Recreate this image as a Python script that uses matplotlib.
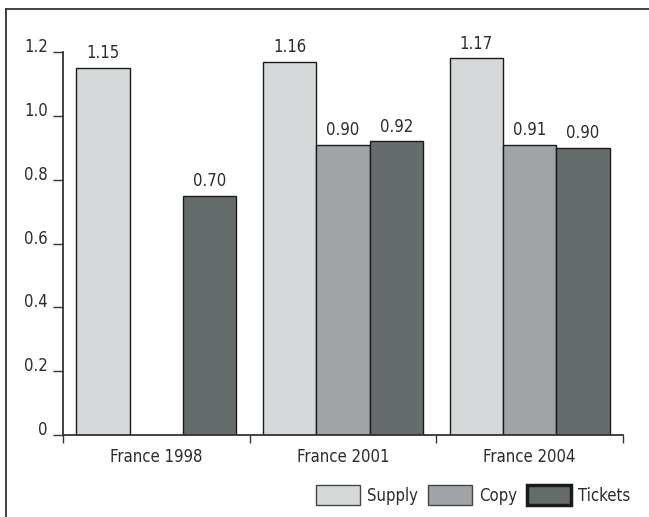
import numpy as np
import matplotlib
matplotlib.use("Agg")
import matplotlib.pyplot as plt
from matplotlib import font_manager
from matplotlib.lines import Line2D
from matplotlib.patches import Patch

# pick the narrowest sans face that is installed
installed = {(f.name, f.stretch) for f in font_manager.fontManager.ttflist}
names = {n for n, _ in installed}
if "Liberation Sans Narrow" in names:
    plt.rcParams["font.family"] = ["Liberation Sans Narrow", "DejaVu Sans"]
    FS = 13.5
elif ("DejaVu Sans", "condensed") in installed or "DejaVu Sans Condensed" in names:
    plt.rcParams["font.family"] = ["DejaVu Sans Condensed" if "DejaVu Sans Condensed" in names else "DejaVu Sans"]
    plt.rcParams["font.stretch"] = "condensed"
    FS = 12
else:
    plt.rcParams["font.family"] = ["Liberation Sans", "DejaVu Sans"]
    FS = 11.5
plt.rcParams["font.size"] = FS
PX = FS * 100 / 72  # font size in pixels

groups = ["France 1998", "France 2001", "France 2004"]
series = ["Supply", "Copy", "Tickets"]
supply = [1.15, 1.17, 1.18]
copy = [np.nan, 0.91, 0.91]
tickets = [0.75, 0.92, 0.90]
supply_labels = ["1.15", "1.16", "1.17"]
copy_labels = ["", "0.90", "0.91"]
tickets_labels = ["0.70", "0.92", "0.90"]
y_ticks = [0, 0.2, 0.4, 0.6, 0.8, 1.0, 1.2]
y_tick_labels = ["0", "0.2", "0.4", "0.6", "0.8", "1.0", "1.2"]

colors = ["#d6d9da", "#a0a4a6", "#666c6b"]
text_color = "#2b2b2b"

fig = plt.figure(figsize=(6.49, 5.17), dpi=100)
ax = fig.add_axes([63 / 649, 82 / 517, 560 / 649, 383 / 517])

x = np.arange(len(groups))
width = 2 / 7
values = [supply, copy, tickets]
labels = [supply_labels, copy_labels, tickets_labels]
for i, (vals, labs) in enumerate(zip(values, labels)):
    offset = (i - 1) * width
    ax.bar(x + offset, vals, width, color=colors[i], edgecolor="#1a1a1a",
           linewidth=1.0, label=series[i])
    for xi, v, lab in zip(x + offset, vals, labs):
        if lab and not np.isnan(v):
            ax.annotate(lab, (xi, v), xytext=(0, 4), textcoords="offset points",
                        ha="center", va="bottom", color=text_color,
                        annotation_clip=False)

ax.set_xlim(-0.5, 2.5)
ax.set_ylim(0, 1.2)
ax.set_yticks(y_ticks)
ax.set_yticklabels(y_tick_labels)
for lab in ax.get_yticklabels():
    lab.set_va("baseline")
ax.tick_params(axis="y", length=7, width=1, pad=4, colors="#333333", labelcolor=text_color)

ax.set_xticks([-0.5, 0.5, 1.5, 2.5])
ax.set_xticklabels([])
ax.tick_params(axis="x", which="major", length=6, width=1, colors="#333333")
ax.set_xticks(x, minor=True)
ax.set_xticklabels(groups, minor=True)
ax.tick_params(axis="x", which="minor", length=0, pad=9, labelcolor=text_color)

for side in ["top", "right"]:
    ax.spines[side].set_visible(False)
for side in ["left", "bottom"]:
    ax.spines[side].set_color("#333333")
    ax.spines[side].set_linewidth(1.3)

# outer frame (left and top edges only)
fig.add_artist(Line2D([6 / 649, 6 / 649], [0, 1 - 9 / 517], color="#333333", lw=1.3))
fig.add_artist(Line2D([6 / 649, 1], [1 - 9 / 517, 1 - 9 / 517], color="#333333", lw=1.3))

handles = [
    Patch(facecolor=colors[0], edgecolor="#444444", linewidth=1.0),
    Patch(facecolor=colors[1], edgecolor="#444444", linewidth=1.0),
    Patch(facecolor=colors[2], edgecolor="#1a1a1a", linewidth=2.5),
]
fig.legend(handles, series, loc="center left", bbox_to_anchor=(316 / 649, 22 / 517),
           ncol=3, frameon=False, borderpad=0, borderaxespad=0,
           handlelength=44 / PX, handleheight=24 / PX,
           handletextpad=7 / PX, columnspacing=10 / PX,
           labelcolor=text_color)

fig.savefig("out.png", dpi=100)
